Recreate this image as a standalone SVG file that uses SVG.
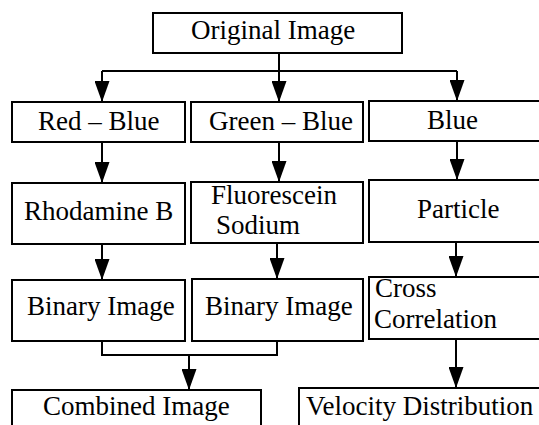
<svg xmlns="http://www.w3.org/2000/svg" width="539" height="425" viewBox="0 0 539 425">
<style>
.box{fill:#fff;stroke:#000;stroke-width:2}
.t{font-family:'Liberation Serif','Times New Roman','DejaVu Serif',serif;font-size:27px;fill:#000}
.c{fill:none;stroke:#000;stroke-width:2}
</style>
<defs>
<marker id="arr" viewBox="0 -7.5 21 15" refX="21" refY="0" markerWidth="21" markerHeight="15" markerUnits="userSpaceOnUse" orient="auto">
<path d="M0,-7.5 L21,0 L0,7.5 z" fill="#000"/>
</marker>
</defs>
<rect width="539" height="425" fill="#fff"/>
<g id="connectors">
<path class="c" d="M102,71 H457"/>
<path class="c" d="M279,53 V102" marker-end="url(#arr)"/>
<path class="c" d="M102,71 V102" marker-end="url(#arr)"/>
<path class="c" d="M457,71 V101" marker-end="url(#arr)"/>
<path class="c" d="M102,142 V183" marker-end="url(#arr)"/>
<path class="c" d="M279,142 V182" marker-end="url(#arr)"/>
<path class="c" d="M457,141 V180" marker-end="url(#arr)"/>
<path class="c" d="M102,244 V280" marker-end="url(#arr)"/>
<path class="c" d="M277,243 V279" marker-end="url(#arr)"/>
<path class="c" d="M456,242 V277" marker-end="url(#arr)"/>
<path class="c" d="M102,341 V355 H277 V341"/>
<path class="c" d="M189,355 V390" marker-end="url(#arr)"/>
<path class="c" d="M456,339 V388" marker-end="url(#arr)"/>
</g>
<g id="original"><rect class="box" x="153" y="13" width="249" height="40"/><text class="t" font-family="Liberation Serif, serif" x="191" y="39">Original Image</text></g>
<g id="redblue"><rect class="box" x="12" y="102" width="173" height="40"/><text class="t" font-family="Liberation Serif, serif" x="38" y="130">Red – Blue</text></g>
<g id="greenblue"><rect class="box" x="191" y="102" width="172" height="40"/><text class="t" font-family="Liberation Serif, serif" x="209" y="130">Green – Blue</text></g>
<g id="blue"><rect class="box" x="369" y="101" width="180" height="40"/><text class="t" font-family="Liberation Serif, serif" x="427" y="129">Blue</text></g>
<g id="rhodamine"><rect class="box" x="12" y="183" width="173" height="61"/><text class="t" font-family="Liberation Serif, serif" x="24" y="220">Rhodamine B</text></g>
<g id="fluorescein"><rect class="box" x="191" y="182" width="172" height="61"/><text class="t" font-family="Liberation Serif, serif" x="211" y="204">Fluorescein</text><text class="t" font-family="Liberation Serif, serif" x="216" y="234">Sodium</text></g>
<g id="particle"><rect class="box" x="369" y="180" width="180" height="62"/><text class="t" font-family="Liberation Serif, serif" x="417" y="218">Particle</text></g>
<g id="binary1"><rect class="box" x="12" y="280" width="173" height="61"/><text class="t" font-family="Liberation Serif, serif" x="27" y="315">Binary Image</text></g>
<g id="binary2"><rect class="box" x="192" y="279" width="171" height="62"/><text class="t" font-family="Liberation Serif, serif" x="205" y="315">Binary Image</text></g>
<g id="cross"><rect class="box" x="369" y="277" width="180" height="62"/><text class="t" font-family="Liberation Serif, serif" x="375" y="297">Cross</text><text class="t" font-family="Liberation Serif, serif" x="374" y="328">Correlation</text></g>
<g id="combined"><rect class="box" x="12" y="390" width="249" height="45"/><text class="t" font-family="Liberation Serif, serif" x="43" y="415">Combined Image</text></g>
<g id="velocity"><rect class="box" x="299" y="388" width="250" height="47"/><text class="t" font-family="Liberation Serif, serif" x="306" y="415">Velocity Distribution</text></g>
</svg>
